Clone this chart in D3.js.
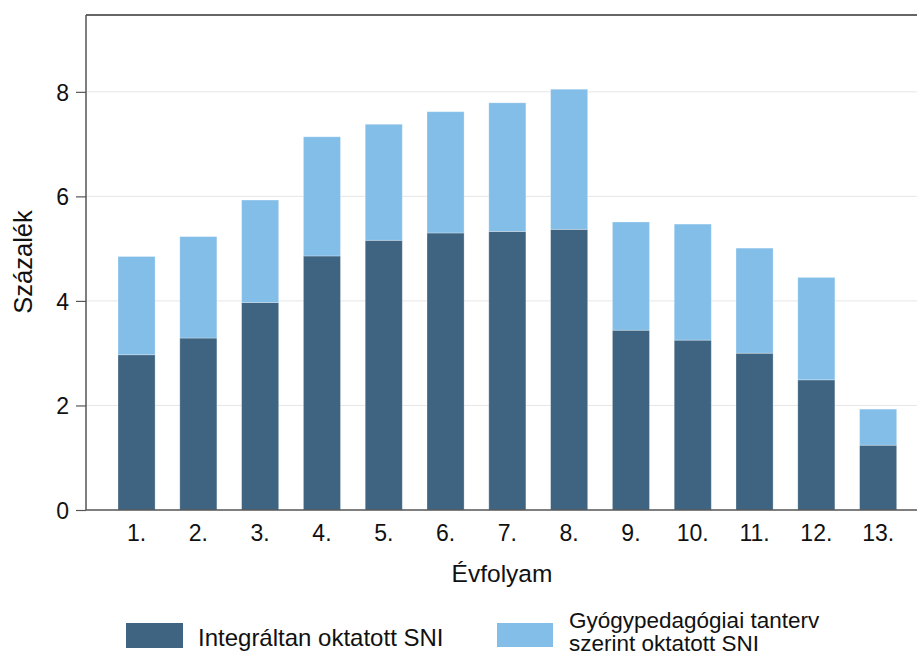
<!DOCTYPE html>
<html>
<head>
<meta charset="utf-8">
<script src="https://cdn.jsdelivr.net/npm/d3@7"></script>
<style>
  html, body { margin: 0; padding: 0; background: #fff; }
  svg { display: block; font-family: "Liberation Sans", Arial, sans-serif; }
</style>
</head>
<body>
<svg id="chart" width="917" height="657"></svg>
<script>
const categories = ["1.", "2.", "3.", "4.", "5.", "6.", "7.", "8.", "9.", "10.", "11.", "12.", "13."];
const integralt = [2.97, 3.29, 3.97, 4.86, 5.16, 5.30, 5.33, 5.37, 3.44, 3.25, 3.00, 2.49, 1.24];
const osszes = [4.85, 5.23, 5.93, 7.14, 7.38, 7.62, 7.79, 8.05, 5.51, 5.47, 5.01, 4.45, 1.93];
const yTicks = [0, 2, 4, 6, 8];
const seriesNames = ["Integráltan oktatott SNI", "Gyógypedagógiai tanterv", "szerint oktatott SNI"];
const colors = ["#3e6481", "#83bee9"];

const svg = d3.select("#chart");
const mLeft = 86, mTop = 15, mBottom = 510;

const x = d3.scaleBand().domain(categories).range([mLeft, 928.7]).paddingInner(0.4).paddingOuter(0.518);
const y = d3.scaleLinear().domain([0, 9.47]).range([mBottom, mTop]);

// gridlines
svg.append("g").selectAll("line").data(yTicks.filter(d => d > 0)).join("line")
  .attr("x1", mLeft).attr("x2", 917)
  .attr("y1", d => y(d)).attr("y2", d => y(d))
  .attr("stroke", "#e6e6e6").attr("stroke-width", 1);

// top frame line
svg.append("line").attr("x1", mLeft).attr("x2", 917).attr("y1", mTop).attr("y2", mTop)
  .attr("stroke", "#333").attr("stroke-width", 1.5);

// stacked data
const stackData = categories.map((c, i) => ({ cat: c, a: integralt[i], b: osszes[i] - integralt[i] }));
const stack = d3.stack().keys(["a", "b"])(stackData);

svg.append("g").selectAll("g").data(stack).join("g")
  .attr("fill", (d, i) => colors[i])
  .selectAll("rect").data(d => d).join("rect")
  .attr("x", d => x(d.data.cat))
  .attr("width", x.bandwidth())
  .attr("y", d => y(d[1]))
  .attr("height", d => y(d[0]) - y(d[1]))
  .attr("stroke", "rgba(255,255,255,0.35)")
  .attr("stroke-width", 0.8);

// y axis
const yAxis = d3.axisLeft(y).tickValues(yTicks).tickSize(10).tickPadding(7).tickFormat(d3.format("d"));
const gy = svg.append("g").attr("transform", `translate(${mLeft},0)`).call(yAxis);
gy.select(".domain").attr("stroke", "#555").attr("stroke-width", 1.5).attr("d", `M0,${mTop}V${mBottom}`);
gy.selectAll(".tick line").attr("stroke", "#555").attr("stroke-width", 1.2);
gy.selectAll(".tick text").attr("font-size", 23).attr("fill", "#111").attr("font-family", "Liberation Sans, Arial, sans-serif").attr("dy", "0.36em");

// x axis
const xAxis = d3.axisBottom(x).tickSize(0).tickPadding(15);
const gx = svg.append("g").attr("transform", `translate(0,${mBottom})`).call(xAxis);
gx.select(".domain").attr("stroke", "#555").attr("stroke-width", 1.5).attr("d", `M${mLeft},0H917`);
gx.selectAll(".tick text").attr("font-size", 23).attr("fill", "#111").attr("font-family", "Liberation Sans, Arial, sans-serif");

// axis titles
svg.append("text").attr("x", 502).attr("y", 582).attr("text-anchor", "middle")
  .attr("font-size", 24.5).attr("fill", "#111").text("Évfolyam");
svg.append("text").attr("transform", "translate(32,262) rotate(-90)").attr("text-anchor", "middle")
  .attr("font-size", 25.5).attr("fill", "#111").text("Százalék");

// legend
const lg = svg.append("g");
lg.append("rect").attr("x", 126).attr("y", 623).attr("width", 57).attr("height", 25).attr("fill", colors[0]);
lg.append("text").attr("x", 198).attr("y", 646).attr("font-size", 24).attr("fill", "#111").text(seriesNames[0]);
lg.append("rect").attr("x", 497).attr("y", 623).attr("width", 56).attr("height", 24).attr("fill", colors[1]);
lg.append("text").attr("x", 569).attr("y", 628).attr("font-size", 22.5).attr("fill", "#111").text(seriesNames[1]);
lg.append("text").attr("x", 569).attr("y", 651).attr("font-size", 22.5).attr("fill", "#111").text(seriesNames[2]);
</script>
</body>
</html>
